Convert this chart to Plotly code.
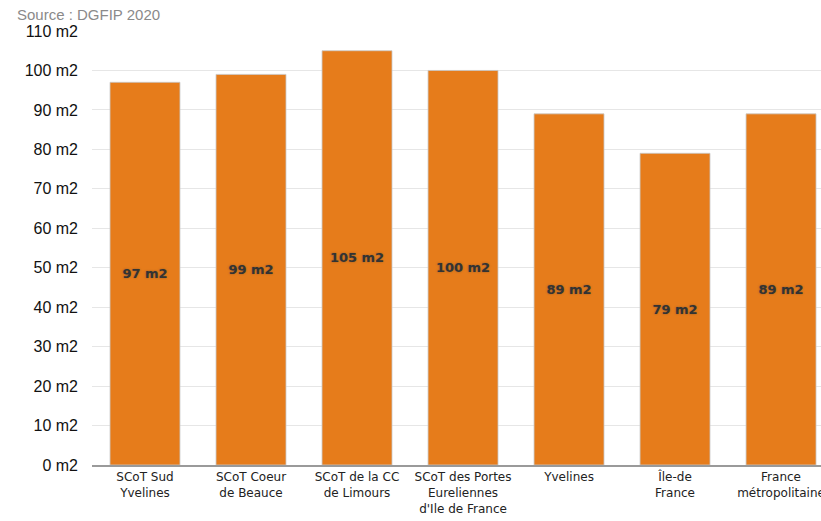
import plotly.graph_objects as go

# Surface moyenne des logements (m2), source DGFIP 2020
categories = [
    "SCoT Sud<br>Yvelines",
    "SCoT Coeur<br>de Beauce",
    "SCoT de la CC<br>de Limours",
    "SCoT des Portes<br>Eureliennes<br>d'Ile de France",
    "Yvelines",
    "Île-de<br>France",
    "France<br>métropolitaine",
]
surface_m2 = [97, 99, 105, 100, 89, 79, 89]
y_ticks = list(range(0, 111, 10))
y_tick_labels = [f"{v} m2" for v in y_ticks]

fig = go.Figure(
    go.Bar(
        x=list(range(len(categories))),
        y=surface_m2,
        width=0.66,
        marker=dict(color="#E67C1B", line=dict(color="rgba(200,200,200,0.8)", width=1)),
        text=[f"{v} m2" for v in surface_m2],
        textposition="inside",
        insidetextanchor="middle",
        textangle=0,
        textfont=dict(family="DejaVu Sans", size=13, color="#333333", weight="bold",
                      shadow="0px 0px 2px rgba(60,60,60,0.5)"),
        cliponaxis=False,
    )
)

fig.update_layout(
    width=821,
    height=521,
    margin=dict(l=92, r=0, t=31, b=56, autoexpand=False),
    paper_bgcolor="white",
    plot_bgcolor="white",
    showlegend=False,
    bargap=0.34,
    annotations=[
        dict(
            text="Source : DGFIP 2020",
            xref="paper", yref="paper",
            x=-0.106, y=1.062, xanchor="left", yanchor="top",
            showarrow=False,
            font=dict(family="Liberation Sans", size=15, color="#8a8a8a"),
        )
    ],
)

fig.update_xaxes(
    tickmode="array",
    tickvals=list(range(len(categories))),
    ticktext=categories,
    range=[-0.5, 6.377],
    automargin=False,
    showgrid=False,
    showline=True,
    linecolor="#9a9a9a",
    linewidth=2,
    ticks="",
    ticklabeloverflow="allow",
    tickfont=dict(family="DejaVu Sans", size=12, color="#222222"),
)

fig.update_yaxes(
    range=[0, 110],
    tickmode="array",
    tickvals=y_ticks,
    ticktext=y_tick_labels,
    automargin=False,
    showgrid=True,
    gridcolor="#e6e6e6",
    gridwidth=1,
    zeroline=False,
    ticks="",
    ticklabelstandoff=13,
    tickfont=dict(family="Liberation Sans", size=16, color="#111111"),
)

fig.write_html("out.html")
